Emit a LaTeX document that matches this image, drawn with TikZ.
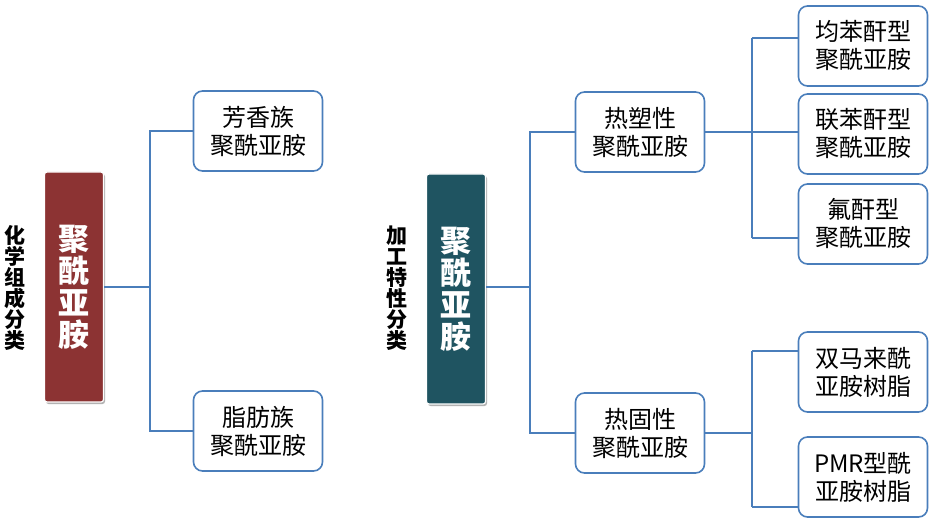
\documentclass[tikz,border=0pt]{standalone}
\usepackage{fontspec}
\newfontfamily\cjk{Noto Sans CJK SC}
\usetikzlibrary{shadows}
\definecolor{lineblue}{HTML}{4A7EBB}
\definecolor{boxred}{HTML}{8C3333}
\definecolor{boxteal}{HTML}{1F5461}
\begin{document}
\begin{tikzpicture}[x=1pt,y=-1pt,
  leaf/.style={draw=lineblue, line width=1.6pt, rounded corners=9pt, fill=white,
    minimum width=129pt, minimum height=80pt, align=center, inner sep=0pt,
    font=\cjk\fontsize{24}{28}\selectfont},
  conn/.style={draw=lineblue, line width=1.1pt},
  rootbox/.style={draw=white, line width=1.2pt, rounded corners=2.5pt,
    minimum width=59pt, minimum height=230pt,
    inner sep=0pt, align=center, text=white,
    font=\cjk\bfseries\fontsize{31}{32}\selectfont,
    drop shadow={shadow xshift=1.5pt, shadow yshift=-2pt, opacity=0.3, fill=black}},
  side/.style={align=center, inner sep=0pt, font=\cjk\bfseries\fontsize{21}{21}\selectfont}]
\useasboundingbox (0,0) rectangle (936,521);

% left tree
\node[side] (lab1) at (15,288) {化\\学\\组\\成\\分\\类};
\node[rootbox, fill=boxred] (r1) at (74,287) {聚\\酰\\亚\\胺};
\node[leaf] (a1) at (258,131) {芳香族\\聚酰亚胺};
\node[leaf] (a2) at (258,431) {脂肪族\\聚酰亚胺};
\coordinate (j1) at (150,287);
\draw[conn] (r1.east) -- (j1);
\draw[conn] (a1.west) -| (j1) |- (a2.west);

% right tree
\node[side] (lab2) at (397,288) {加\\工\\特\\性\\分\\类};
\node[rootbox, fill=boxteal] (r2) at (456,289) {聚\\酰\\亚\\胺};
\node[leaf] (b1) at (640,132) {热塑性\\聚酰亚胺};
\node[leaf] (b2) at (640,433) {热固性\\聚酰亚胺};
\coordinate (j2) at (530,287);
\draw[conn] (r2.east |- j2) -- (j2);
\draw[conn] (b1.west) -| (j2) |- (b2.west);

\node[leaf] (d1) at (863,46) {均苯酐型\\聚酰亚胺};
\node[leaf] (d2) at (863,134) {联苯酐型\\聚酰亚胺};
\node[leaf] (d3) at (863,224) {氟酐型\\聚酰亚胺};
\node[leaf] (e1) at (863,372) {双马来酰\\亚胺树脂};
\node[leaf] (e2) at (863,477) {PMR型酰\\亚胺树脂};

\coordinate (j3) at (752,132);
\coordinate (c1) at (752,38);
\coordinate (c3) at (752,238);
\draw[conn] (b1.east) -- (j3);
\draw[conn] (c1) -- (c3);
\draw[conn] (c1) -- (d1.west |- c1);
\draw[conn] (j3) -- (d2.west |- j3);
\draw[conn] (c3) -- (d3.west |- c3);

\coordinate (j4) at (752,433);
\coordinate (f1) at (752,351);
\coordinate (f2) at (752,507);
\draw[conn] (b2.east) -- (j4);
\draw[conn] (f1) -- (f2);
\draw[conn] (f1) -- (e1.west |- f1);
\draw[conn] (f2) -- (e2.west |- f2);
\end{tikzpicture}
\end{document}
